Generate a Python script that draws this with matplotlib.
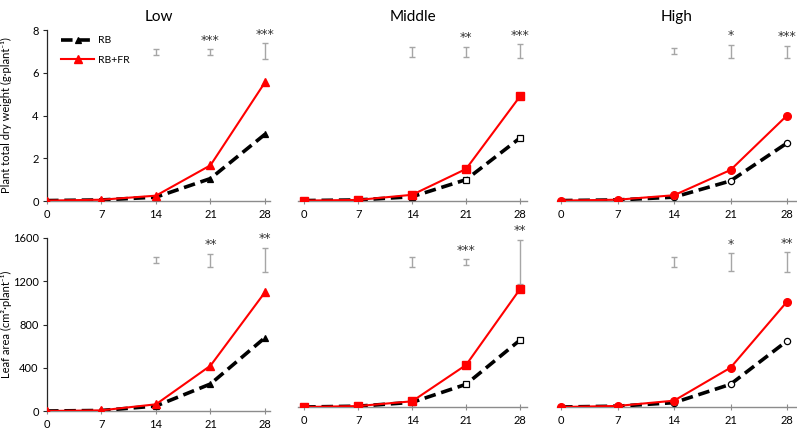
import matplotlib
matplotlib.use("Agg")
import matplotlib.pyplot as plt

plt.rcParams['font.family'] = ['Lato', 'DejaVu Sans']

days = [0, 7, 14, 21, 28]
xticks = [0, 7, 14, 21, 28]
titles = ["Low", "Middle", "High"]

# Plant total dry weight (g/plant)
dw_rb = {
    "Low": [0.02, 0.05, 0.18, 1.05, 3.12],
    "Middle": [0.02, 0.05, 0.20, 1.00, 2.95],
    "High": [0.02, 0.05, 0.18, 0.94, 2.71],
}
dw_fr = {
    "Low": [0.02, 0.06, 0.25, 1.67, 5.55],
    "Middle": [0.02, 0.05, 0.29, 1.50, 4.90],
    "High": [0.02, 0.06, 0.27, 1.45, 4.00],
}
# LSD-type bars shown above curves (center, half-length) at days 14, 21, 28
dw_bar_center = {"Low": [6.97, 6.97, 7.0], "Middle": [6.98, 6.97, 7.0], "High": [7.0, 6.99, 6.99]}
dw_bar_half = {"Low": [0.12, 0.12, 0.37], "Middle": [0.22, 0.25, 0.33], "High": [0.14, 0.31, 0.28]}
dw_stars = {"Low": ["", "***", "***"], "Middle": ["", "**", "***"], "High": ["", "*", "***"]}

# Leaf area (cm2/plant)
la_rb = {
    "Low": [0, 5, 46, 250, 678],
    "Middle": [0, 8, 44, 215, 634],
    "High": [0, 8, 41, 215, 625],
}
la_fr = {
    "Low": [0, 6, 62, 419, 1098],
    "Middle": [0, 9, 54, 398, 1117],
    "High": [0, 10, 60, 372, 997],
}
la_bar_center = {"Low": [1395, 1395, 1397], "Middle": [1370, 1372, 1372], "High": [1370, 1372, 1370]}
la_bar_half = {"Low": [25, 60, 115], "Middle": [47, 27, 210], "High": [47, 84, 95]}
la_stars = {"Low": ["", "**", "**"], "Middle": ["", "***", "**"], "High": ["", "*", "**"]}

bar_days = [14, 21, 28]
markers = {"Low": "^", "Middle": "s", "High": "o"}
rb_face = {"Low": "black", "Middle": "white", "High": "white"}

W, H = 797, 429
fig = plt.figure(figsize=(W / 100, H / 100), dpi=100)

cols = [(47, 270), (298, 527), (557, 797)]
xlims = [(0, 28.65), (-0.8, 28.9), (-0.5, 29.24)]
rows_top = [(30, 201), (238, 411)]
rows_other = [(30, 201), (238, 407)]

grey = "#8c8c8c"
for r in range(2):
    for c, name in enumerate(titles):
        top, bot = rows_top[r] if c == 0 else rows_other[r]
        l, rr = cols[c]
        ax = fig.add_axes([l / W, 1 - bot / H, (rr - l) / W, (bot - top) / H])
        ax.set_facecolor("none")
        if r == 0:
            rb, fr = dw_rb[name], dw_fr[name]
            bc, bh, st = dw_bar_center[name], dw_bar_half[name], dw_stars[name]
            ylim, yt = (0, 8), [0, 2, 4, 6, 8]
            star_off = 0.12
        else:
            rb, fr = la_rb[name], la_fr[name]
            bc, bh, st = la_bar_center[name], la_bar_half[name], la_stars[name]
            ylim, yt = (0, 1600), [0, 400, 800, 1200, 1600]
            star_off = 25
        ax.plot(days, rb, color="black", ls=(0, (3.2, 1.6)), lw=2.6,
                marker=markers[name], ms=4.5, mfc=rb_face[name], mec="black",
                mew=0.9, label="RB", zorder=3)
        ax.plot(days, fr, color="#ff0000", lw=1.5, marker=markers[name],
                ms=5.5, mfc="#ff0000", mec="#ff0000", label="RB+FR", zorder=4)
        ax.errorbar(bar_days, bc, yerr=bh, fmt="none", ecolor="#a6a6a6",
                    elinewidth=1.0, capsize=2.5, capthick=1.0)
        for d, cval, h, s in zip(bar_days, bc, bh, st):
            if s:
                ax.text(d, cval + h + star_off, s, ha="center", va="bottom",
                        fontsize=9, color="#333333", clip_on=False,
                        family="DejaVu Sans")
        ax.set_xlim(*xlims[c])
        ax.set_ylim(*ylim)
        ax.set_xticks(xticks)
        for sp in ["top", "right"]:
            ax.spines[sp].set_visible(False)
        ax.spines["bottom"].set_color(grey)
        ax.spines["bottom"].set_linewidth(1.0)
        ax.tick_params(axis="x", direction="inout", length=5, color=grey,
                       labelsize=8, pad=3, labelcolor="black")
        if c == 0:
            ax.spines["left"].set_color("#262626")
            ax.spines["left"].set_linewidth(0.9)
            ax.set_yticks(yt)
            ax.tick_params(axis="y", direction="out", length=3, color="#262626",
                           labelsize=8, pad=3)
        else:
            ax.spines["left"].set_visible(False)
            ax.set_yticks([])
        if r == 0:
            ax.set_title(name, fontsize=11, pad=0, y=1.0 + 9 / 171)
        if c == 0 and r == 0:
            ax.set_ylabel("Plant total dry weight (g\u00b7plant\u207b\u00b9)", fontsize=8,
                          family=["Lato", "DejaVu Sans"])
            ax.legend(loc="upper left", bbox_to_anchor=(0.02, 1.02), frameon=False,
                      fontsize=7.5, handlelength=3.2, labelspacing=1.0,
                      handletextpad=0.4)
        if c == 0 and r == 1:
            ax.set_ylabel("Leaf area (cm\u00b2\u00b7plant\u207b\u00b9)", fontsize=8,
                          family=["Lato", "DejaVu Sans"])
        if c == 0:
            ax.yaxis.set_label_coords(-35 / 223, 0.5)

fig.savefig("out.png", dpi=100)
